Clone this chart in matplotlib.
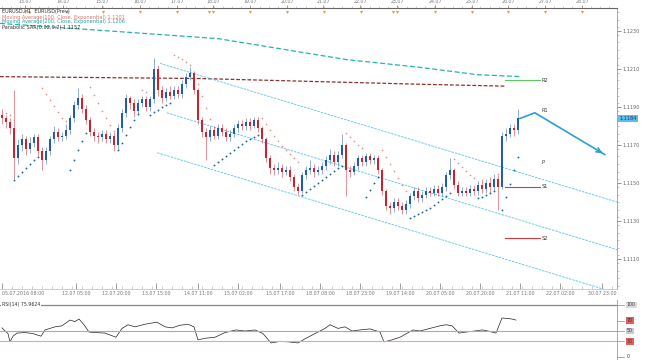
import numpy as np
import matplotlib
matplotlib.use('Agg')
import matplotlib.pyplot as plt
from matplotlib.ticker import MultipleLocator, FixedLocator
from matplotlib.transforms import blended_transform_factory

# ---- data (H1 bars, one bar per index) ----
closes = [1.1184, 1.1182, 1.1179, 1.1163, 1.1170, 1.1173, 1.1168, 1.1171, 1.1174, 1.1167,
          1.1162, 1.1167, 1.1173, 1.1177, 1.1174, 1.1175, 1.1178, 1.1184, 1.1191, 1.1195,
          1.1189, 1.1183, 1.1177, 1.1175, 1.1174, 1.1176, 1.1173, 1.1175, 1.1170, 1.1179,
          1.1187, 1.1195, 1.1192, 1.1188, 1.1192, 1.1194, 1.1190, 1.1194, 1.1210, 1.1199,
          1.1195, 1.1198, 1.1196, 1.1199, 1.1197, 1.1202, 1.1206, 1.1208, 1.1199, 1.1183,
          1.1177, 1.1174, 1.1178, 1.1175, 1.1179, 1.1177, 1.1174, 1.1176, 1.1179, 1.1181,
          1.1180, 1.1182, 1.1180, 1.1183, 1.1179, 1.1173, 1.1163, 1.1158, 1.1157, 1.1158,
          1.1156, 1.1157, 1.1153, 1.1148, 1.1146, 1.1154, 1.1157, 1.1158, 1.1156, 1.1157,
          1.1159, 1.1162, 1.1165, 1.1161, 1.1165, 1.1170, 1.1157, 1.1156, 1.1159, 1.1163,
          1.1161, 1.1164, 1.1162, 1.1163, 1.1157, 1.1146, 1.1138, 1.1137, 1.1140, 1.1138,
          1.1136, 1.1139, 1.1143, 1.1146, 1.1142, 1.1144, 1.1146, 1.1145, 1.1147, 1.1145,
          1.1148, 1.1154, 1.1157, 1.1149, 1.1145, 1.1146, 1.1145, 1.1147, 1.1146, 1.1149,
          1.1147, 1.1150, 1.1148, 1.1152, 1.1148, 1.1175, 1.1176, 1.1179, 1.1178, 1.1184]
highs = [1.1189, 1.1186, 1.1184, 1.1199, 1.1173, 1.1176, 1.1175, 1.1174, 1.1176, 1.1176,
         1.1169, 1.1169, 1.1175, 1.1180, 1.1179, 1.1177, 1.1181, 1.1186, 1.1193, 1.1200,
         1.1197, 1.1191, 1.1185, 1.1179, 1.1177, 1.1178, 1.1178, 1.1177, 1.1177, 1.1181,
         1.1189, 1.1197, 1.1196, 1.1194, 1.1194, 1.1196, 1.1196, 1.1196, 1.1216, 1.1212,
         1.1201, 1.1200, 1.1201, 1.1201, 1.1201, 1.1204, 1.1208, 1.1211, 1.1209, 1.1200,
         1.1185, 1.1179, 1.1180, 1.1180, 1.1181, 1.1181, 1.1179, 1.1178, 1.1181, 1.1183,
         1.1183, 1.1184, 1.1184, 1.1185, 1.1185, 1.1180, 1.1174, 1.1165, 1.1160, 1.1161,
         1.1160, 1.1159, 1.1159, 1.1155, 1.1150, 1.1156, 1.1159, 1.1162, 1.1160, 1.1159,
         1.1161, 1.1164, 1.1168, 1.1167, 1.1167, 1.1176, 1.1171, 1.1159, 1.1161, 1.1165,
         1.1165, 1.1166, 1.1166, 1.1165, 1.1165, 1.1158, 1.1147, 1.1140, 1.1142, 1.1142,
         1.1140, 1.1141, 1.1145, 1.1148, 1.1148, 1.1146, 1.1148, 1.1148, 1.1149, 1.1149,
         1.1150, 1.1156, 1.1163, 1.1158, 1.1151, 1.1148, 1.1148, 1.1149, 1.1149, 1.1151,
         1.1152, 1.1152, 1.1153, 1.1155, 1.1154, 1.1177, 1.1179, 1.1181, 1.1181, 1.1189]
lows = [1.1181, 1.1179, 1.1176, 1.1152, 1.1160, 1.1167, 1.1165, 1.1166, 1.1169, 1.1164,
        1.1157, 1.1160, 1.1165, 1.1171, 1.1172, 1.1172, 1.1173, 1.1176, 1.1182, 1.1189,
        1.1187, 1.1181, 1.1175, 1.1172, 1.1171, 1.1172, 1.1171, 1.1171, 1.1167, 1.1168,
        1.1177, 1.1185, 1.1189, 1.1185, 1.1186, 1.1190, 1.1188, 1.1188, 1.1192, 1.1196,
        1.1192, 1.1193, 1.1194, 1.1194, 1.1195, 1.1195, 1.1200, 1.1204, 1.1197, 1.1181,
        1.1174, 1.1162, 1.1172, 1.1173, 1.1173, 1.1175, 1.1172, 1.1172, 1.1174, 1.1177,
        1.1178, 1.1178, 1.1178, 1.1179, 1.1177, 1.1171, 1.1161, 1.1155, 1.1154, 1.1155,
        1.1153, 1.1154, 1.1151, 1.1146, 1.1144, 1.1145, 1.1152, 1.1155, 1.1153, 1.1154,
        1.1155, 1.1157, 1.1160, 1.1159, 1.1159, 1.1163, 1.1143, 1.1153, 1.1154, 1.1157,
        1.1159, 1.1159, 1.1160, 1.1160, 1.1155, 1.1144, 1.1136, 1.1134, 1.1135, 1.1136,
        1.1134, 1.1134, 1.1137, 1.1141, 1.1140, 1.1140, 1.1142, 1.1143, 1.1143, 1.1143,
        1.1143, 1.1146, 1.1152, 1.1147, 1.1143, 1.1143, 1.1143, 1.1143, 1.1144, 1.1144,
        1.1145, 1.1145, 1.1145, 1.1146, 1.1136, 1.1147, 1.1172, 1.1174, 1.1175, 1.1176]
first_open = 1.1186

# parabolic SAR dots, one per bar
sar = [1.11874, 1.11869, 1.11858, 1.11516, 1.11537, 1.11558, 1.11579, 1.11600, 1.11621, 1.11637,
       1.12000, 1.11969, 1.11937, 1.11905, 1.11874, 1.11842, 1.11827, 1.11569, 1.11621, 1.11674,
       1.11721, 1.11763, 1.12005, 1.11963, 1.11921, 1.11879, 1.11842, 1.11806, 1.11774, 1.11674,
       1.11711, 1.11753, 1.11795, 1.11832, 1.11863, 1.11990, 1.11979, 1.11858, 1.11874, 1.11884,
       1.11900, 1.11911, 1.11921, 1.12174, 1.12163, 1.12153, 1.12137, 1.12121, 1.12084, 1.12021,
       1.11958, 1.11895, 1.11837, 1.11595, 1.11611, 1.11627, 1.11642, 1.11658, 1.11674, 1.11690,
       1.11706, 1.11721, 1.11732, 1.11742, 1.11753, 1.11842, 1.11811, 1.11779, 1.11748, 1.11721,
       1.11695, 1.11674, 1.11653, 1.11632, 1.11611, 1.11437, 1.11453, 1.11469, 1.11485, 1.11501,
       1.11516, 1.11532, 1.11548, 1.11564, 1.11579, 1.11590, 1.11763, 1.11742, 1.11721, 1.11700,
       1.11685, 1.11427, 1.11464, 1.11501, 1.11532, 1.11674, 1.11637, 1.11600, 1.11564, 1.11527,
       1.11490, 1.11458, 1.11316, 1.11327, 1.11337, 1.11348, 1.11358, 1.11369, 1.11385, 1.11401,
       1.11416, 1.11432, 1.11448, 1.11627, 1.11606, 1.11585, 1.11564, 1.11543, 1.11527, 1.11422,
       1.11427, 1.11437, 1.11448, 1.11458, 1.11548, 1.11358, 1.11427, 1.11495, 1.11569, 1.11637]

# moving averages (bar, price)
ma_teal_bars = [-0.5, 27, 54, 86, 104, 119, 130]
ma_teal = [1.1234, 1.1230, 1.1226, 1.1215, 1.1211, 1.1207, 1.1206]
ma_brown_bars = [-0.5, 49.5, 104.5, 125.7]
ma_brown = [1.1206, 1.1205, 1.1202, 1.1201]

# regression channel (start bar, start price, end bar, end price)
channel = [(39.5, 1.1213, 153.8, 1.1140),
           (41.2, 1.1187, 153.8, 1.1115),
           (38.8, 1.1166, 153.8, 1.1092)]

# pivot levels
pivot_names = ['R2', 'R1', 'P', 'S1', 'S2']
pivot_vals = [1.1204, 1.1188, 1.1161, 1.1148, 1.1121]
pivot_cols = ['#5cc85c', None, None, '#d23c3c', '#d23c3c']

# forecast arrow path
arrow_bars = [129.5, 133.2, 150.7]
arrow_vals = [1.1184, 1.1187, 1.1165]

last_price = '1.1184'
price_ticks = [1.1110, 1.1130, 1.1150, 1.1170, 1.1190, 1.1210, 1.1230]

# RSI(14)
rsi_bars = [0, 0.5, 1.5, 2, 2.75, 3.75, 5.75, 7.75, 9.75, 10.75, 13.25, 15, 17, 18.25,
            19.25, 20.5, 21.75, 23.25, 25.75, 28.5, 30, 31.5, 33.25, 35.75, 38.75, 40.75,
            42.5, 44.5, 46.5, 48, 49, 50.75, 53.25, 55.75, 58.5, 60.75, 63.25, 65.25, 67.25,
            69.5, 71.75, 74, 75.75, 78.25, 80.75, 82, 84, 85.75, 87.5, 89.5, 92, 94.5,
            95.5, 97.5, 99.5, 102.75, 104.5, 107, 109.5, 111, 112.5, 114.25, 116, 118.25,
            120, 121.5, 123.5, 125, 126.5, 127.5, 128.5]
rsi_vals = [56, 52, 45, 29, 40, 46, 47, 45, 40, 52, 58, 60, 71, 68, 73, 62, 48, 47,
            46, 38, 55, 62, 58, 63, 67, 58, 56, 61, 63, 58, 33, 36, 38, 47, 52, 50,
            52, 45, 27, 30, 29, 27, 35, 45, 55, 62, 55, 58, 50, 52, 54, 48, 29, 33,
            38, 52, 50, 55, 60, 62, 60, 46, 48, 50, 52, 50, 46, 75, 74, 73, 71]
rsi_ticks = [100, 70, 50, 30, 0]
rsi_title = 'RSI(14) 75.9624'

top_bars = [5.75, 15.25, 25, 34.5, 43.75, 52.75, 62, 71.25, 80.25, 89.5, 98.75,
            108.25, 117.5, 126.5, 135.75, 145]
top_labels = ['13.07', '14.07', '15.07', '16.07', '17.07', '18.07', '19.07', '20.07',
              '21.07', '22.07', '23.07', '24.07', '25.07', '26.07', '27.07', '28.07']
event_bars = [5.75, 6.75, 16.25, 25.25, 34.5, 43.75, 51.75, 52.75, 62, 71.25, 80.5,
              89.75, 97.75, 98.75, 108.25, 117.5, 126.5, 135.75, 145]

bottom_bars = [0, 18.5, 28.5, 38.5, 49, 59, 69.5, 79.5, 89.5, 99.5, 109.5, 119.5, 129.5,
               139.5, 150]
bottom_labels = ['05.07.2016 08:00', '12.07 05:00', '12.07 20:00', '13.07 15:00',
                 '14.07 11:00', '15.07 02:00', '15.07 17:00', '18.07 08:00', '18.07 23:00',
                 '19.07 14:00', '20.07 05:00', '20.07 20:00', '21.07 11:00', '22.07 02:00',
                 '30.07 23:00']

opens = [first_open] + closes[:-1]
n = len(closes)
idx = np.arange(n)
sar = np.array(sar)
sar_above = sar > np.array(closes)

# ---- figure ----
W, H = 647, 360


def rect(x0, y0, x1, y1):
    return [x0 / W, 1 - y1 / H, (x1 - x0) / W, (y1 - y0) / H]


fig = plt.figure(figsize=(W / 100, H / 100), dpi=100)
fig.patch.set_facecolor('white')
ax = fig.add_axes(rect(0, 8, 617, 289))
ax.set_xlim(-0.5, 153.75)
ax.set_ylim(1.10943, 1.12421)

up_col = '#1f5db0'
dn_col = '#d0202e'
for i in idx:
    o, c = opens[i], closes[i]
    col = up_col if c >= o else dn_col
    ax.vlines(i, lows[i], highs[i], color=col, lw=0.5, alpha=0.7, zorder=3)
    ax.bar(i, max(abs(c - o), 0.00004), bottom=min(o, c), width=0.45, color=col,
           lw=0, zorder=4)

ax.scatter(idx[~sar_above], sar[~sar_above], s=1.8, color='#1c64a8', lw=0, zorder=5)
ax.scatter(idx[sar_above], sar[sar_above], s=1.4, color='#f28a80', lw=0, zorder=5)

ax.plot(ma_teal_bars, ma_teal, color='#22b5ad', lw=0.9, ls=(0, (4, 2)), zorder=2)
ax.plot(ma_brown_bars, ma_brown, color='#8b3030', lw=0.9, ls=(0, (3, 1.5)), zorder=2)

for b0, p0, b1, p1 in channel:
    ax.plot([b0, b1], [p0, p1], color='#55c5e8', lw=0.6, ls=(0, (3, 1.2)), zorder=2)

for name, val, col in zip(pivot_names, pivot_vals, pivot_cols):
    if col:
        ax.plot([125.8, 134.5], [val, val], color=col, lw=0.8, zorder=2)
    ax.text(134.9, val, name, fontsize=3.6, color='#333333', va='center', ha='left')

ax.plot(arrow_bars, arrow_vals, color='#2a9fd8', lw=1.2, zorder=6)
ax.annotate('', xy=(arrow_bars[-1], arrow_vals[-1]),
            xytext=(arrow_bars[-1] - 1.5, arrow_vals[-1] + 0.00019),
            arrowprops=dict(arrowstyle='->', color='#2a9fd8', lw=1.2,
                            mutation_scale=8), zorder=6)

# axes cosmetics
ax.spines['left'].set_visible(False)
ax.spines['right'].set_color('#9a9a9a')
ax.spines['right'].set_linewidth(0.6)
ax.spines['top'].set_color('#666666')
ax.spines['top'].set_linewidth(0.8)
ax.spines['bottom'].set_color('#bbbbbb')
ax.spines['bottom'].set_linewidth(0.5)

ax.yaxis.tick_right()
ax.yaxis.set_major_locator(FixedLocator(price_ticks))
ax.yaxis.set_minor_locator(MultipleLocator(0.0004))
ax.set_yticklabels(['%.4f' % v for v in price_ticks])
ax.tick_params(axis='y', which='major', labelsize=3.6, length=3, width=0.5,
               colors='#666666', pad=1)
ax.tick_params(axis='y', which='minor', length=1.5, width=0.4, colors='#999999')

ax.set_xticks(bottom_bars)
ax.set_xticklabels(bottom_labels)
ax.xaxis.set_minor_locator(MultipleLocator(2.5))
ax.tick_params(axis='x', which='major', labelsize=3.4, length=4, width=0.5,
               direction='in', colors='#777777', pad=1.5)
ax.tick_params(axis='x', which='minor', length=2, width=0.4, direction='in',
               colors='#aaaaaa')
ax.get_xticklabels()[0].set_ha('left')

top = ax.secondary_xaxis('top')
top.set_xticks(top_bars)
top.set_xticklabels(top_labels)
top.xaxis.set_minor_locator(MultipleLocator(2.3))
top.tick_params(axis='x', which='major', labelsize=3.4, length=2.5, width=0.5,
                colors='#777777', pad=0.5)
top.tick_params(axis='x', which='minor', length=1.5, width=0.4, colors='#aaaaaa')
top.spines['top'].set_visible(False)

tr = blended_transform_factory(ax.transData, ax.transAxes)
ax.scatter(event_bars, [0.985] * len(event_bars), marker='v', s=5, color='#e8a030',
           lw=0, transform=tr, zorder=7, clip_on=False)

# current price tag
ax.text(1.004, 1.1184, last_price,
        transform=blended_transform_factory(ax.transAxes, ax.transData),
        fontsize=3.6, color='#1d3a5a', va='center', ha='left',
        bbox=dict(boxstyle='square,pad=0.25', fc='#5cbef0', ec='none'))

# header lines
fig.text(2 / W, 1 - 12 / H, 'EURUSD,H1  EURUSD(Prev)', fontsize=3.6, color='#333333',
         va='center')
fig.text(2 / W, 1 - 17 / H, 'Moving Average(100, Close, Exponential) 1.1201', fontsize=3.6,
         color='#e0706a', va='center')
fig.text(2 / W, 1 - 22 / H, 'Moving Average(200, Close, Exponential) 1.1206', fontsize=3.6,
         color='#1aa5a0', va='center')
fig.text(2 / W, 1 - 27 / H, 'Parabolic SAR(0.02,0.2) 1.1157', fontsize=3.6, color='#333333',
         va='center')

# ---- RSI panel ----
rax = fig.add_axes(rect(0, 300, 617, 360))
rax.set_xlim(-0.5, 153.75)
rax.set_ylim(-5.77, 109.6)
rax.plot(rsi_bars, rsi_vals, color='#222222', lw=0.5)
rax.axhline(100, color='#888888', lw=0.9)
rax.axhline(50, color='#aaaaaa', lw=0.8)
rax.axhline(30, color='#f0a0a0', lw=0.8)
for s in ['left', 'top', 'bottom']:
    rax.spines[s].set_visible(False)
rax.spines['right'].set_color('#9a9a9a')
rax.spines['right'].set_linewidth(0.6)
rax.set_xticks([])
rax.set_yticks([])
rtr = blended_transform_factory(rax.transAxes, rax.transData)
tag_cols = {100: '#dddddd', 70: '#e06060', 50: '#cccccc', 30: '#e06060', 0: 'white'}
for v in rsi_ticks:
    rax.plot([1.0, 1.012], [v, v], color='#888888', lw=0.5, transform=rtr, clip_on=False)
    rax.text(1.016, v, str(v), transform=rtr, fontsize=3.4, color='#333333', va='center',
             ha='left', bbox=dict(boxstyle='square,pad=0.2', fc=tag_cols[v], ec='none'))
rax.text(0.003, 100, rsi_title, transform=rtr, fontsize=3.4,
         color='#333333', va='center', ha='left',
         bbox=dict(boxstyle='square,pad=0.1', fc='white', ec='none'))

fig.savefig('out.png', dpi=100)
